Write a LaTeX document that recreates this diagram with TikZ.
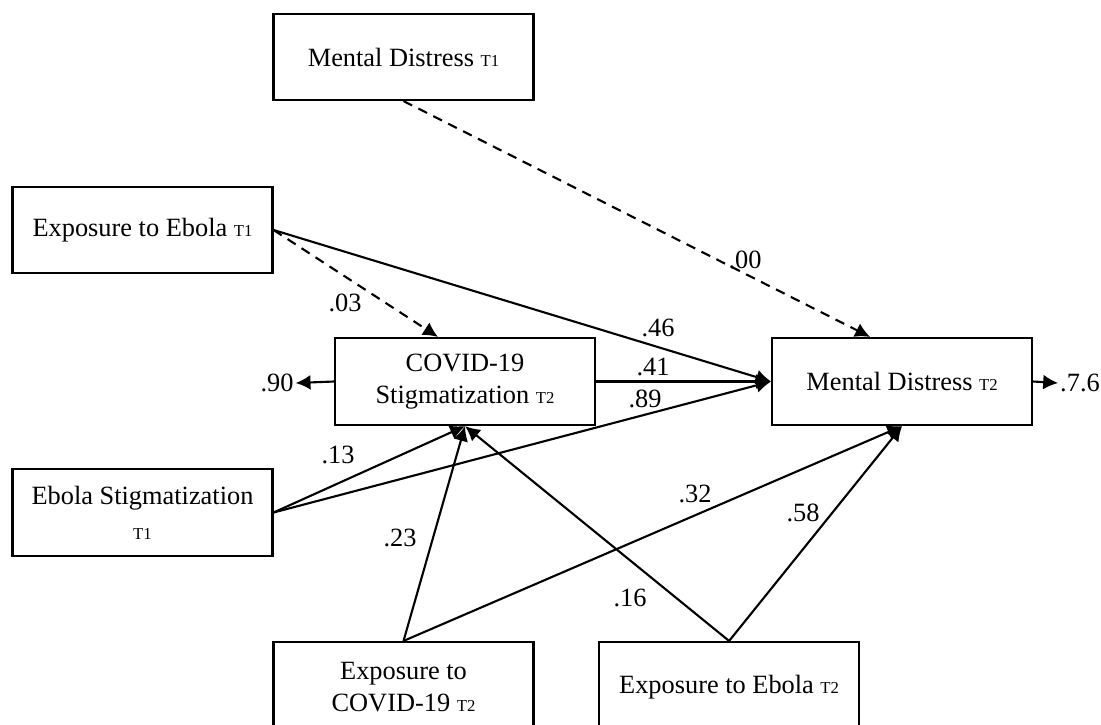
\documentclass[tikz,border=0pt]{standalone}
\usepackage{fontspec}
\setmainfont{Liberation Serif}
\usepackage{tikz}
\usetikzlibrary{arrows.meta,positioning,calc}
\newcommand{\tsub}[1]{{\fontsize{9.5}{10}\selectfont #1}}
\tikzstyle{block} = [draw, rectangle, line width=1.2pt, minimum width=5.2cm, minimum height=1.74cm, align=center, font=\fontsize{15}{18}\selectfont]
\tikzstyle{line} = [draw, line width=1.2pt, -{Latex[length=8.5pt,width=8.5pt]}]
\tikzstyle{dline} = [line, dash pattern=on 5.5pt off 4pt]
\tikzstyle{coef} = [inner sep=1pt, font=\fontsize{15}{18}\selectfont]

\begin{document}
\begin{tikzpicture}
    \useasboundingbox (0,0) rectangle (22.02,-14.48);
    % Nodes
    \node [block, minimum height=1.72cm] (mdT1) at (8.07,-1.14) {Mental Distress \tsub{T1}};
    \node [block, minimum height=1.72cm] (ebT1) at (2.85,-4.6) {Exposure to Ebola \tsub{T1}};
    \node [block] (stig) at (9.30,-7.63) {COVID-19\\Stigmatization \tsub{T2}};
    \node [block, right=3.5cm of stig] (mdT2) {Mental Distress \tsub{T2}};
    \node [block] (ebstig) at (2.85,-10.25) {Ebola Stigmatization\\[2pt]\tsub{T1}};
    \node [block, minimum height=1.8cm] (expC) at (8.07,-13.74) {Exposure to\\COVID-19 \tsub{T2}};
    \node [block, minimum height=1.8cm, right=1.27cm of expC] (expE) {Exposure to Ebola \tsub{T2}};

    % Residuals
    \node [coef] (e1) at (5.54,-7.66) {.90};
    \node [coef] (e2) at (21.6,-7.66) {.7.6};

    % Paths
    \path [dline] (mdT1.south) -- ($(mdT2.north)+(-0.64,0)$);
    \path [dline] (ebT1.east) -- ($(stig.north)+(-0.54,0)$);
    \path [line] (ebT1.east) -- (mdT2.west);
    \path [line] (stig.east) -- (mdT2.west);
    \path [line] (ebstig.east) -- (stig.south);
    \path [line] (ebstig.east) -- (mdT2.west);
    \path [line] (expC.north) -- (stig.south);
    \path [line] (expC.north) -- (mdT2.south);
    \path [line] (expE.north) -- (stig.south);
    \path [line] (expE.north) -- (mdT2.south);
    \path [line] (stig.west) -- (e1.east);
    \path [line] (mdT2.east) -- (e2.west);

    % Coefficients
    \node [coef] (c00) at (14.9,-5.2) {.00};
    \node [coef] (c46) at (13.16,-6.56) {.46};
    \node [coef] (c41) at (13.06,-7.34) {.41};
    \node [coef] (c89) at (12.9,-7.98) {.89};
    \node [coef] (c03) at (6.9,-6.06) {.03};
    \node [coef] (c13) at (6.76,-9.1) {.13};
    \node [coef] (c23) at (8.0,-10.76) {.23};
    \node [coef] (c32) at (13.9,-9.88) {.32};
    \node [coef] (c16) at (12.6,-11.96) {.16};
    \node [coef] (c58) at (16.06,-10.26) {.58};
\end{tikzpicture}
\end{document}
